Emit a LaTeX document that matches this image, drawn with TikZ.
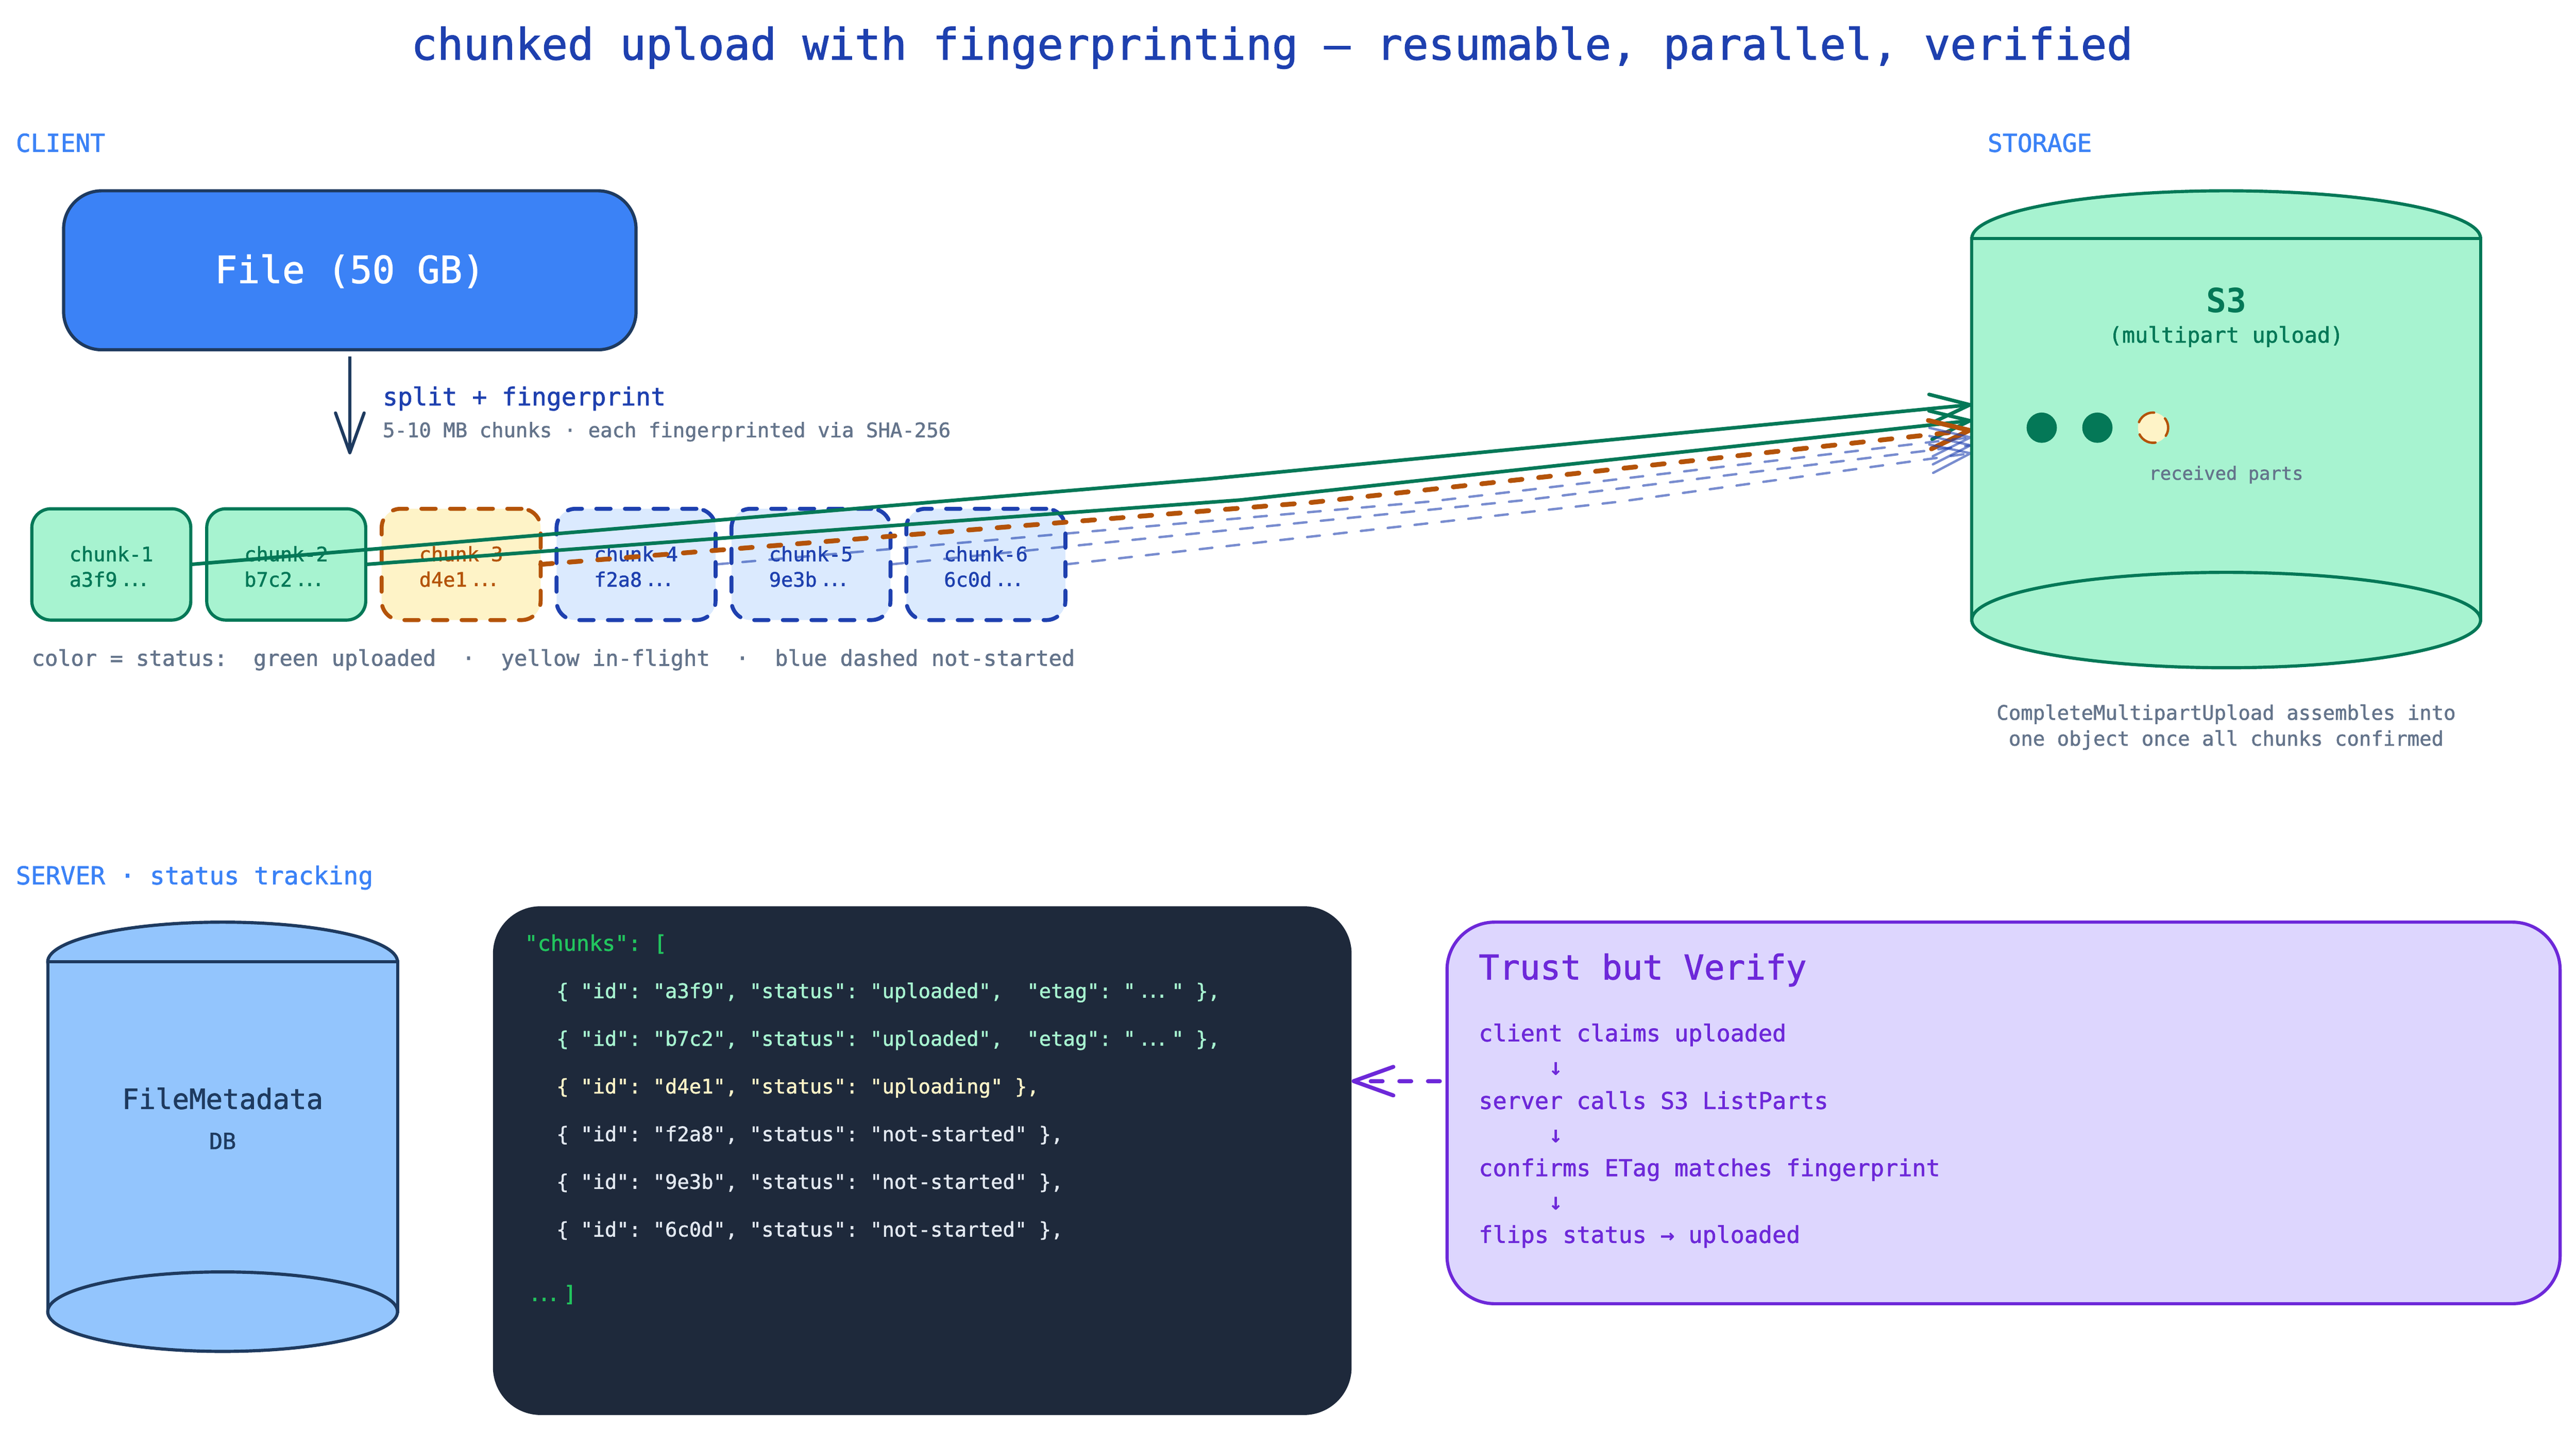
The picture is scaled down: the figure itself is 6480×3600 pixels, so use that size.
\documentclass[tikz,border=0pt]{standalone}
\usepackage{fontspec}
\setmainfont{DejaVu Sans Mono}[Ligatures=TeXOff,FakeBold=1.5]
\newfontfamily\heavyfont{DejaVu Sans Mono Bold}[Ligatures=TeXOff]
\newfontfamily\elfont[Scale=1.3]{DejaVu Sans}
\usetikzlibrary{arrows.meta}
\definecolor{brandblue}{HTML}{3B82F6}
\definecolor{navy}{HTML}{1E3A5F}
\definecolor{titleblue}{HTML}{1E40AF}
\definecolor{slate}{HTML}{64748B}
\definecolor{greenfill}{HTML}{A7F3D0}
\definecolor{greenline}{HTML}{047857}
\definecolor{yellowfill}{HTML}{FEF3C7}
\definecolor{orangeline}{HTML}{B45309}
\definecolor{bluefill}{HTML}{DBEAFE}
\definecolor{dbfill}{HTML}{93C5FD}
\definecolor{codebg}{HTML}{1E293B}
\definecolor{codegreen}{HTML}{22C55E}
\definecolor{codewhite}{HTML}{E2E8F0}
\definecolor{purplefill}{HTML}{DDD6FE}
\definecolor{purpleline}{HTML}{6D28D9}
\newcommand{\fs}[1]{\fontsize{#1pt}{#1pt}\selectfont}
\newcommand{\el}{\makebox[1.806em][c]{\elfont …}}
\frenchspacing
\tikzset{
  txt/.style={inner sep=0pt,outer sep=0pt,anchor=base west,align=left},
  ctxt/.style={inner sep=0pt,outer sep=0pt,anchor=base,align=center},
  secthead/.style={txt,text=brandblue,font=\fs{15.55}},
  filebox/.style={draw=navy,fill=brandblue,line width=2pt,rounded corners=24pt,minimum width=360pt,minimum height=100pt,inner sep=0pt,outer sep=0pt},
  chunkbase/.style={rounded corners=12pt,minimum width=100pt,minimum height=70pt,inner sep=0pt,outer sep=0pt,line width=2pt},
  chunkdone/.style={chunkbase,draw=greenline,fill=greenfill},
  chunkfly/.style={chunkbase,draw=orangeline,fill=yellowfill,line width=2.5pt,line cap=round,dash pattern=on 9pt off 9pt},
  chunkwait/.style={chunkbase,draw=titleblue,fill=bluefill,line width=2.5pt,line cap=round,dash pattern=on 9pt off 9pt},
  chunktxt/.style={ctxt,font=\fs{12.5}},
  headtip/.style={-{Straight Barb[length=25pt,width=18pt,round]},line join=round},
  linkdone/.style={headtip,draw=greenline,line width=2.25pt},
  linkfly/.style={headtip,draw=orangeline,line width=3pt,line cap=round,dash pattern=on 7.5pt off 10.5pt},
  linkwait/.style={headtip,draw=titleblue,opacity=.6,line width=1.5pt,line cap=round,dash pattern=on 8pt off 9pt},
  cyls3/.style={draw=greenline,fill=greenfill,line width=2pt},
  cyldb/.style={draw=navy,fill=dbfill,line width=2pt},
  dotdone/.style={circle,fill=greenline,minimum size=19pt,inner sep=0pt,outer sep=0pt},
  dotfly/.style={circle,fill=yellowfill,draw=orangeline,line width=1.5pt,line cap=round,minimum size=19pt,inner sep=0pt,outer sep=0pt,dash pattern=on 12pt off 8pt,dash phase=5.75pt},
  codebox/.style={fill=codebg,rounded corners=30pt,minimum width=540pt,minimum height=320pt,inner sep=0pt,outer sep=0pt},
  codeline/.style={txt,font=\fs{12.6}},
  codehead/.style={txt,font=\fs{13.5}},
  trustbox/.style={draw=purpleline,fill=purplefill,line width=2pt,rounded corners=30pt,minimum width=700pt,minimum height=240pt,inner sep=0pt,outer sep=0pt},
  trustline/.style={txt,text=purpleline,font=\fs{14.6}},
}
\begin{document}
\begin{tikzpicture}[x=0.25pt,y=-0.25pt]
\useasboundingbox (0,0) rectangle (6480,3600);
% title and section heads
\node[ctxt,text=titleblue,font=\fs{27.25}] (title) at (3200,150) {chunked upload with fingerprinting — resumable, parallel, verified};
\node[secthead] (client) at (40,382) {CLIENT};
\node[secthead] (storage) at (5000,382) {STORAGE};
\node[secthead] (server) at (40,2225) {SERVER · status tracking};
% file
\node[filebox,anchor=north west] (file) at (160,480) {};
\node[ctxt,text=white,font=\fs{23.5}] (filetxt) at (880,712) {File (50 GB)};
\coordinate (splitfrom) at (880,897);
\coordinate (splitto) at (880,1143);
\draw[headtip,draw=navy,line width=2pt] (splitfrom) -- (splitto);
\node[txt,text=titleblue,font=\fs{15.55}] (split) at (963,1020) {split + fingerprint};
\node[txt,text=slate,font=\fs{12.62}] (splitsub) at (963,1100) {5-10 MB chunks · each fingerprinted via SHA-256};
% chunks
\node[chunkdone,anchor=north west] (c1) at (80,1280) {};
\node[chunkdone,anchor=north west] (c2) at (520,1280) {};
\node[chunkfly,anchor=north west] (c3) at (960,1280) {};
\node[chunkwait,anchor=north west] (c4) at (1400,1280) {};
\node[chunkwait,anchor=north west] (c5) at (1840,1280) {};
\node[chunkwait,anchor=north west] (c6) at (2280,1280) {};
\node[chunktxt,text=greenline] (c1a) at (280,1412) {chunk-1};
\node[chunktxt,text=greenline] (c1b) at (280,1476) {a3f9\el};
\node[chunktxt,text=greenline] (c2a) at (720,1412) {chunk-2};
\node[chunktxt,text=greenline] (c2b) at (720,1476) {b7c2\el};
\node[chunktxt,text=orangeline] (c3a) at (1160,1412) {chunk-3};
\node[chunktxt,text=orangeline] (c3b) at (1160,1476) {d4e1\el};
\node[chunktxt,text=titleblue] (c4a) at (1600,1412) {chunk-4};
\node[chunktxt,text=titleblue] (c4b) at (1600,1476) {f2a8\el};
\node[chunktxt,text=titleblue] (c5a) at (2040,1412) {chunk-5};
\node[chunktxt,text=titleblue] (c5b) at (2040,1476) {9e3b\el};
\node[chunktxt,text=titleblue] (c6a) at (2480,1412) {chunk-6};
\node[chunktxt,text=titleblue] (c6b) at (2480,1476) {6c0d\el};
\node[txt,text=slate,font=\fs{13.62}] (legend) at (80,1675) {color = status:\ \ green uploaded\ \ ·\ \ yellow in-flight\ \ ·\ \ blue dashed not-started};
% connectors to S3
\coordinate (b1) at (3040,1205); \coordinate (e1) at (4960,1018);
\coordinate (b2) at (3120,1258); \coordinate (e2) at (4960,1058);
\coordinate (b3) at (3300,1264); \coordinate (e3) at (4960,1082);
\coordinate (b4) at (3595,1262); \coordinate (e4) at (4960,1100);
\coordinate (b5) at (3838,1258); \coordinate (e5) at (4960,1120);
\coordinate (b6) at (4075,1262); \coordinate (e6) at (4960,1140);
\draw[linkdone] (c1.east) -- (b1) -- (e1);
\draw[linkdone] (c2.east) -- (b2) -- (e2);
\draw[linkfly] (c3.east) -- (b3) -- (e3);
\draw[linkwait] (c4.east) -- (b4) -- (e4);
\draw[linkwait] (c5.east) -- (b5) -- (e5);
\draw[linkwait] (c6.east) -- (b6) -- (e6);
% S3 cylinder
\draw[cyls3] (5600,600) ellipse [x radius=640,y radius=120];
\draw[cyls3] (4960,600) rectangle (6240,1560);
\draw[cyls3] (5600,1560) ellipse [x radius=640,y radius=120];
\node[ctxt,text=greenline,font=\fs{21}\heavyfont] (s3) at (5600,786) {S3};
\node[ctxt,text=greenline,font=\fs{13.6}] (s3sub) at (5600,862) {(multipart upload)};
\node[dotdone] (d1) at (5136,1076) {};
\node[dotdone] (d2) at (5276,1076) {};
\node[dotfly] (d3) at (5416,1076) {};
\node[ctxt,text=slate,font=\fs{11.5}] (recv) at (5600,1207) {received parts};
\node[ctxt,text=slate,font=\fs{12.62}] (cap1) at (5600,1811) {CompleteMultipartUpload assembles into};
\node[ctxt,text=slate,font=\fs{12.62}] (cap2) at (5600,1876) {one object once all chunks confirmed};
% DB cylinder
\draw[cyldb] (560,2420) ellipse [x radius=440,y radius=100];
\draw[cyldb] (120,2420) rectangle (1000,3300);
\draw[cyldb] (560,3300) ellipse [x radius=440,y radius=100];
\node[ctxt,text=navy,font=\fs{17.5}] (dbname) at (560,2790) {FileMetadata};
\node[ctxt,text=navy,font=\fs{14}] (dbsub) at (560,2891) {DB};
% code
\node[codebox,anchor=north west] (code) at (1240,2280) {};
\node[codehead,text=codegreen] (l0) at (1320,2392) {"chunks": [};
\node[codeline,text=greenfill] (l1) at (1400,2511) {\{ "id": "a3f9", "status": "uploaded",\ \ "etag": "\el" \},};
\node[codeline,text=greenfill] (l2) at (1400,2631) {\{ "id": "b7c2", "status": "uploaded",\ \ "etag": "\el" \},};
\node[codeline,text=yellowfill] (l3) at (1400,2751) {\{ "id": "d4e1", "status": "uploading" \},};
\node[codeline,text=codewhite] (l4) at (1400,2871) {\{ "id": "f2a8", "status": "not-started" \},};
\node[codeline,text=codewhite] (l5) at (1400,2991) {\{ "id": "9e3b", "status": "not-started" \},};
\node[codeline,text=codewhite] (l6) at (1400,3111) {\{ "id": "6c0d", "status": "not-started" \},};
\node[codehead,text=codegreen] (l7) at (1320,3274) {\el]};
% trust box
\node[trustbox,anchor=north west] (trust) at (3640,2320) {};
\node[txt,text=purpleline,font=\fs{21.4}] (tt) at (3720,2464) {Trust but Verify};
\node[trustline] (t1) at (3720,2620) {client claims uploaded};
\node[trustline] (a1) at (3720,2704) {\ \ \ \ \ ↓};
\node[trustline] (t2) at (3720,2790) {server calls S3 ListParts};
\node[trustline] (a2) at (3720,2874) {\ \ \ \ \ ↓};
\node[trustline] (t3) at (3720,2959) {confirms ETag matches fingerprint};
\node[trustline] (a3) at (3720,3043) {\ \ \ \ \ ↓};
\node[trustline] (t4) at (3720,3127) {flips status → uploaded};
\coordinate (tstart) at (3622,2720);
\coordinate (cend) at (3400,2720);
\draw[headtip,draw=purpleline,line width=2.5pt,line cap=round,dash pattern=on 7.5pt off 10.5pt] (tstart) -- (cend);
\end{tikzpicture}
\end{document}
